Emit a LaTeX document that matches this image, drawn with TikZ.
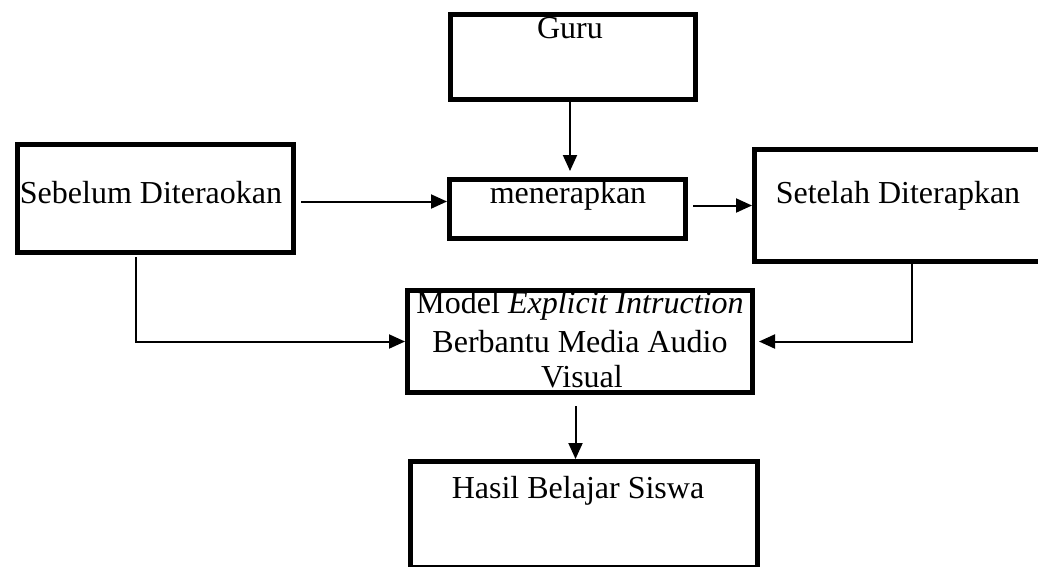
\documentclass[tikz,border=0pt]{standalone}
\usepackage{fontspec}
\setmainfont{Liberation Serif}
\usetikzlibrary{arrows.meta}
\begin{document}
\begin{tikzpicture}[x=1pt,y=-1pt,
  box/.style={draw=black,line width=5pt,rectangle,inner sep=0pt,anchor=north west},
  lbl/.style={inner sep=0pt,anchor=base,font=\fontsize{32}{37}\selectfont},
  arr/.style={line width=2pt,-{Triangle[length=16pt,width=14pt]}}]
\useasboundingbox (0,0) rectangle (1038,566);
\clip (0,0) rectangle (1038,566);
\fill[white] (0,0) rectangle (1038,566);
% boxes
\node[box,minimum width=245pt,minimum height=85pt] (guru) at (448,12) {};
\node[box,minimum width=276pt,minimum height=108pt] (seb) at (15,142) {};
\node[box,minimum width=236pt,minimum height=59pt] (men) at (447,177) {};
\node[box,minimum width=293pt,minimum height=112pt] (set) at (752,147) {};
\node[box,minimum width=345pt,minimum height=102pt] (model) at (405,288) {};
\node[box,minimum width=347pt,minimum height=106pt] (hasil) at (408,459) {};
% texts
\node[lbl] (guruT) at (570,38) {Guru};
\node[lbl] (sebT) at (151,203) {Sebelum Diteraokan};
\node[lbl] (menT) at (568,203) {menerapkan};
\node[lbl] (setT) at (898,203) {Setelah Diterapkan};
\node[lbl] (modT1) at (580,313) {Model \textit{Explicit Intruction}};
\node[lbl] (modT2) at (580,352) {Berbantu Media Audio};
\node[lbl] (modT3) at (582,387) {Visual};
\node[lbl] (hasT) at (578,498) {Hasil Belajar Siswa};
% connectors
\draw[arr,shorten >=6pt] (guru.south -| 570,0) -- (men.north -| 570,0);
\draw[arr,shorten <=5pt] ([yshift=-3pt]seb.east) -- ([yshift=-3pt]seb.east -| men.west);
\draw[arr,shorten <=5pt] ([yshift=3.5pt]men.east) -- ([yshift=3.5pt]men.east -| set.west);
\draw[arr] ([xshift=-20pt,yshift=-2pt]seb.south) |- (model.west);
\draw[arr,shorten >=4pt] ([xshift=10.5pt]set.south) |- (model.east);
\draw[arr,shorten <=11pt] ([xshift=-4.5pt]model.south) -- ([xshift=-4.5pt]model.south |- hasil.north);
\end{tikzpicture}
\end{document}
